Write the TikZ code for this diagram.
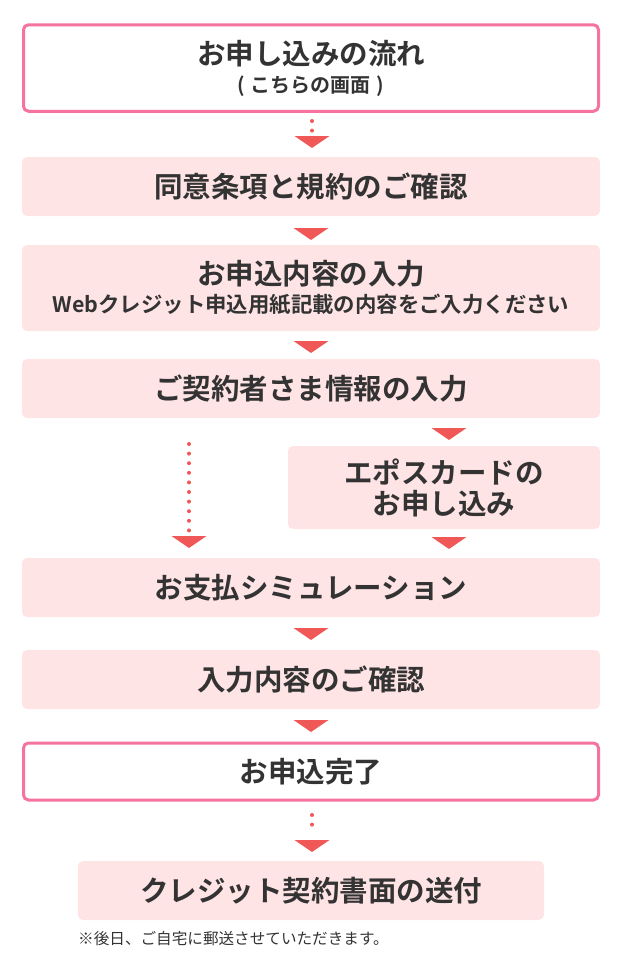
\documentclass[tikz,border=0pt]{standalone}
\usepackage{fontspec}
\setmainfont{Noto Sans CJK JP}[BoldFont={* Bold}]
\usetikzlibrary{calc}
\definecolor{boxfill}{HTML}{FFE4E6}
\definecolor{boxline}{HTML}{F7739F}
\definecolor{arrowred}{HTML}{F05858}
\definecolor{txt}{HTML}{333333}
\tikzset{
  stage/.style={fill=boxfill, rounded corners=5pt, inner sep=0pt, text=txt, font=\fontsize{28.5}{33}\selectfont\bfseries, align=center},
  framed/.style={draw=boxline, line width=3pt, fill=white, rounded corners=5pt, inner sep=0pt, text=txt, font=\fontsize{28.5}{33}\selectfont\bfseries, align=center},
  dotline/.style={arrowred, line width=4pt, line cap=round, dash pattern=on 0pt off 9.6pt},
  tri/.style={fill=arrowred}
}
\newcommand\downtri[1]{\fill[tri] ($(#1)+(-17.5,0)$) -- ++(35,0) -- ++(-17.5,12) -- cycle;}
\begin{document}
\begin{tikzpicture}[x=1pt,y=-1pt]
\useasboundingbox (0,0) rectangle (620,964);
% boxes
\node[framed, minimum width=575pt, minimum height=86.5pt] (b1) at (311,68)
  {お申し込みの流れ\\[-5pt]{\fontsize{20}{23}\selectfont (\hspace{0.3em}こちらの画面\hspace{0.3em})}};
\node[stage, minimum width=578pt, minimum height=59pt] (b2) at (311,186.5) {同意条項と規約のご確認};
\node[stage, minimum width=578pt, minimum height=86pt] (b3) at (311,288)
  {お申込内容の入力\\[-5pt]{\fontsize{21.4}{25}\selectfont Webクレジット申込用紙記載の内容をご入力ください}};
\node[stage, minimum width=578pt, minimum height=59pt] (b4) at (311,388.5) {ご契約者さま情報の入力};
\node[stage, minimum width=312pt, minimum height=83pt] (b5) at (444,487.5) {エポスカードの\\[-2pt]お申し込み};
\node[stage, minimum width=578pt, minimum height=59pt] (b6) at (311,587.5) {お支払シミュレーション};
\node[stage, minimum width=578pt, minimum height=59pt] (b7) at (311,679.5) {入力内容のご確認};
\node[framed, minimum width=575pt, minimum height=57pt] (b8) at (311,771.5) {お申込完了};
\node[stage, minimum width=466pt, minimum height=59pt] (b9) at (311,890.5) {クレジット契約書面の送付};
\node[anchor=west, text=txt, font=\fontsize{15.6}{18}\selectfont, inner sep=0pt] (note) at (78,939) {※後日、ご自宅に郵送させていただきます。};
% connectors
\coordinate (t1) at (312,136);
\draw[dotline] (312,121) -- (312,132);
\downtri{t1}
\coordinate (t2) at (311,228);
\downtri{t2}
\coordinate (t3) at (311,341);
\downtri{t3}
\coordinate (t4) at (449,428);
\downtri{t4}
\coordinate (t5a) at (189,536);
\draw[dotline] (189,444) -- (189,532);
\downtri{t5a}
\coordinate (t5b) at (449,537);
\downtri{t5b}
\coordinate (t6) at (311,628);
\downtri{t6}
\coordinate (t7) at (311,720);
\downtri{t7}
\coordinate (t8) at (312,840);
\draw[dotline] (312,815) -- (312,834);
\downtri{t8}
\end{tikzpicture}
\end{document}
